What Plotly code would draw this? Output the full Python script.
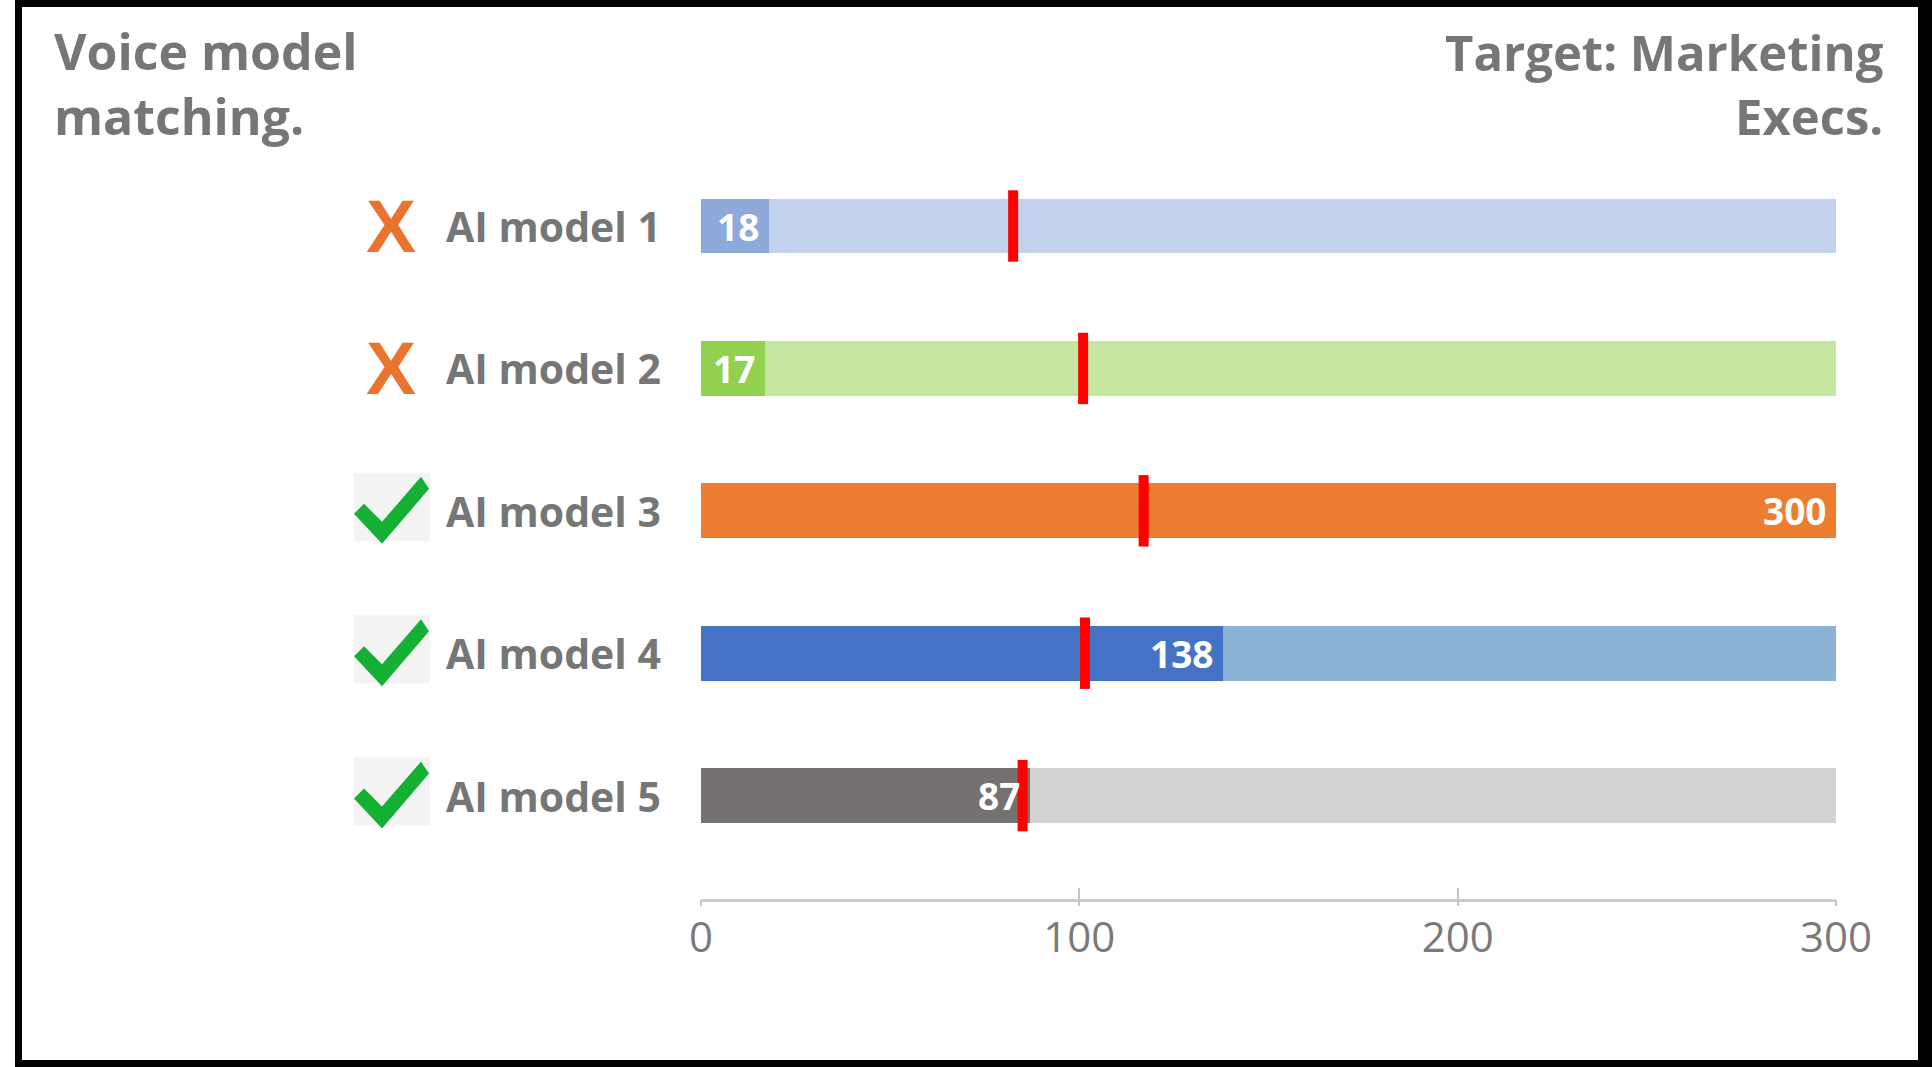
import plotly.graph_objects as go

W, H = 1932, 1067

# ---- data ----
models = ["AI model 1", "AI model 2", "AI model 3", "AI model 4", "AI model 5"]
values = [18, 17, 300, 138, 87]
targets = [82.5, 101, 117, 101.5, 85]
scale_max = [300, 300, 300, 300, 300]
status = ["fail", "fail", "pass", "pass", "pass"]
x_ticks = [0, 100, 200, 300]
value_colors = ["#8eaadb", "#92d050", "#ed7d31", "#4472c4", "#767171"]
track_colors = ["#c3d1ec", "#c5e6a0", "#ed7d31", "#8cb2d7", "#d3d2d2"]
title_left = "Voice model<br>matching."
title_right = "Target: Marketing<br>Execs."

rows = list(range(len(models)))
GREY = "#767676"

# plot area in pixels
PL, PR, PT, PB = 701, 1836, 0, 899


def px(x):
    return (x - PL) / (PR - PL)


def py(y):
    return (PB - y) / (PB - PT)


fig = go.Figure()
fig.add_trace(go.Bar(x=scale_max, y=rows, orientation="h", width=0.386,
                     marker=dict(color=track_colors, line=dict(width=0)),
                     hoverinfo="skip", showlegend=False))
fig.add_trace(go.Bar(x=values, y=rows, orientation="h", width=0.386,
                     marker=dict(color=value_colors, line=dict(width=0)),
                     showlegend=False))
fig.add_trace(go.Scatter(x=targets, y=rows, mode="markers", showlegend=False,
                         marker=dict(symbol="line-ns", size=51, color="#ff0000",
                                     line=dict(width=10, color="#ff0000"))))
# invisible trace so that the secondary (tick-only) axis is drawn
fig.add_trace(go.Scatter(x=x_ticks, y=[rows[0]] * len(x_ticks), xaxis="x2", mode="markers",
                         marker=dict(opacity=0), hoverinfo="skip", showlegend=False))

annotations = []
# titles
annotations.append(dict(text=title_left, xref="paper", yref="paper", x=px(52), y=py(84),
                        xanchor="left", yanchor="middle", align="left", showarrow=False,
                        font=dict(family="Open Sans", size=50, color=GREY, weight=700)))
annotations.append(dict(text=title_right, xref="paper", yref="paper", x=px(1886), y=py(84),
                        xanchor="right", yanchor="middle", align="right", showarrow=False,
                        font=dict(family="Open Sans", size=49, color=GREY, weight=700)))
for r, name, v, st in zip(rows, models, values, status):
    annotations.append(dict(text=name, xref="paper", yref="y", x=px(663), y=r,
                            xanchor="right", yanchor="middle", showarrow=False,
                            font=dict(family="Open Sans", size=41, color=GREY, weight=700)))
    annotations.append(dict(text=str(v), xref="x", yref="y", x=v, y=r, xshift=-8,
                            xanchor="right", yanchor="middle", showarrow=False,
                            font=dict(family="Open Sans", size=37, color="white", weight=700)))
    if st == "fail":
        annotations.append(dict(text="X", xref="paper", yref="y", x=px(391), y=r,
                                xanchor="center", yanchor="middle", showarrow=False,
                                font=dict(family="Liberation Sans", size=75, color="#e9732f",
                                          weight=700)))

shapes = []
check_pts = [(-38, 3), (-28, -7), (-10, 11), (29, -34), (37, -22), (-10, 33)]
check_path = "M" + " L".join(f"{x},{-y}" for x, y in check_pts) + " Z"
for r, st in zip(rows, status):
    if st == "pass":
        shapes.append(dict(type="rect", xref="paper", yref="y", xsizemode="pixel",
                           ysizemode="pixel", xanchor=px(392), yanchor=r,
                           x0=-38, x1=38, y0=-30, y1=38, fillcolor="#f3f3f3",
                           line=dict(width=0), layer="above"))
        shapes.append(dict(type="path", xref="paper", yref="y", xsizemode="pixel",
                           ysizemode="pixel", xanchor=px(392), yanchor=r,
                           path=check_path, fillcolor="#14b033",
                           line=dict(width=0), layer="above"))

# black frame
for x0, x1, y0, y1 in [(15, 22, 0, H), (15, W, 0, 7), (1918, W, 0, H), (15, W, 1060, H)]:
    shapes.append(dict(type="rect", xref="paper", yref="paper",
                       x0=px(x0), x1=px(x1), y0=py(y1), y1=py(y0),
                       fillcolor="black", line=dict(width=0), layer="above"))

fig.update_layout(
    width=W, height=H,
    margin=dict(l=PL, r=W - PR, t=PT, b=H - PB, pad=0),
    paper_bgcolor="white", plot_bgcolor="rgba(0,0,0,0)",
    barmode="overlay", bargap=0,
    xaxis=dict(range=[0, 300], tickvals=x_ticks, showgrid=False, zeroline=False,
               showline=True, linecolor="#cdcdcd", linewidth=3,
               ticks="inside", ticklen=11, tickwidth=2, tickcolor="#c4c4c4",
               tickfont=dict(family="Open Sans", size=42, color="#7a7a7a"),
               fixedrange=True),
    xaxis2=dict(range=[0, 300], tickvals=x_ticks, overlaying="x", anchor="y", side="bottom",
                showgrid=False, zeroline=False, showline=False, showticklabels=False,
                ticks="outside", ticklen=6, tickwidth=2, tickcolor="#c4c4c4",
                fixedrange=True),
    yaxis=dict(range=[4.726, -1.587], visible=False, fixedrange=True),
    annotations=annotations, shapes=shapes,
    showlegend=False,
)

fig.write_html("out.html")
